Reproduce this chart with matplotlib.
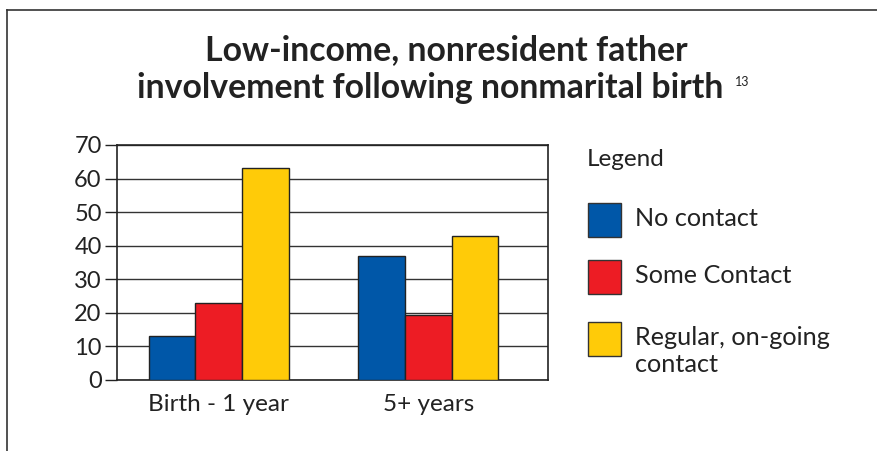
import numpy as np
import matplotlib
matplotlib.use('Agg')
import matplotlib.pyplot as plt
from matplotlib.patches import Rectangle
from matplotlib.lines import Line2D

plt.rcParams['font.family'] = ['Lato', 'DejaVu Sans']

groups = ['Birth - 1 year', '5+ years']
series = ['No contact', 'Some Contact', 'Regular, on-going\ncontact']
no_contact = [13, 37]
some_contact = [23, 19.5]
regular = [63, 43]
colors = ['#0057a8', '#ed1c24', '#ffcb08']
yticks = [0, 10, 20, 30, 40, 50, 60, 70]

fig = plt.figure(figsize=(8.78, 4.51), dpi=100)

# outer frame (top and left edges only visible)
fig.add_artist(Line2D([7/878, 1], [1-10/451, 1-10/451], color='#333333', lw=1.2))
fig.add_artist(Line2D([7/878, 7/878], [0, 1-10/451], color='#333333', lw=1.2))

ax = fig.add_axes([117/878, 1-380/451, 431/878, 235/451])

x = np.arange(len(groups))
w = 0.223
for i, vals in enumerate([no_contact, some_contact, regular]):
    ax.bar(x + (i-1)*w, vals, w, color=colors[i], edgecolor='#222222', linewidth=1, zorder=3)

ax.set_ylim(0, 70)
ax.set_xlim(-0.486, 1.571)
ax.set_yticks(yticks)
ax.set_yticklabels([str(t) for t in yticks], fontsize=17, color='#222222')
ax.set_xticks(x)
ax.set_xticklabels(groups, fontsize=17.5, color='#222222')
ax.tick_params(axis='x', length=0, pad=10)
ax.tick_params(axis='y', length=9, width=1, color='#222222', pad=2)
ax.yaxis.grid(True, color='#333333', linewidth=1, zorder=0)
for s in ax.spines.values():
    s.set_color('#222222')
    s.set_linewidth(1.2)

fig.text(446/878, 1-50/451, 'Low-income, nonresident father', ha='center', va='center',
         fontsize=24.3, fontweight='bold', color='#222222')
fig.text(430/878, 1-88/451, 'involvement following nonmarital birth', ha='center', va='center',
         fontsize=24.3, fontweight='bold', color='#222222')
fig.text(735/878, 1-82/451, '13', ha='left', va='center', fontsize=9, color='#222222')

# legend
fig.text(587/878, 1-159/451, 'Legend', ha='left', va='center', fontsize=17.5, color='#222222')
tops = [203, 260, 322]
for name, c, t in zip(series, colors, tops):
    fig.add_artist(Rectangle((588/878, 1-(t+34)/451), 33/878, 34/451, facecolor=c,
                             edgecolor='#333333', linewidth=1, transform=fig.transFigure))
    fig.text(635/878, 1-(t+4)/451, name, ha='left', va='top', fontsize=18.2,
             color='#222222', linespacing=1.2)

fig.savefig('out.png', dpi=100)
